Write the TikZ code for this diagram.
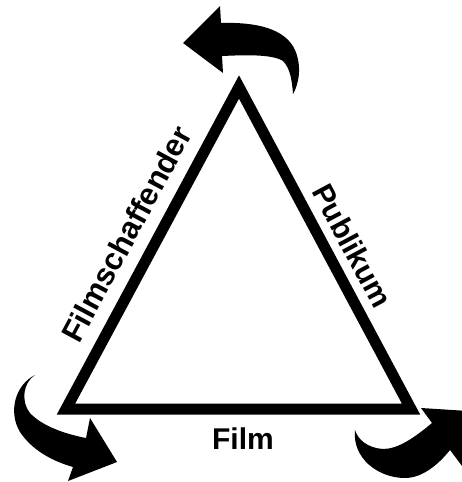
\documentclass[tikz,border=0pt]{standalone}
\usepackage{fontspec}
\setmainfont{Liberation Sans}
\usepackage{tikz}
\tikzset{
  side/.style={font=\bfseries\fontsize{30}{36}\selectfont, inner sep=0pt},
}

\begin{document}
\begin{tikzpicture}[x=1pt,y=-1pt]
  \useasboundingbox (0,0) rectangle (462,482);
  \coordinate (top) at (239,87);
  \coordinate (left) at (66,409);
  \coordinate (right) at (411,409);
  \draw[line width=11pt] (left) -- (top) -- (right) -- cycle;
  \path (left) -- node[side, sloped, above=18pt, pos=0.50, font=\bfseries\fontsize{31}{36}\selectfont] (filmschaffender) {Filmschaffender} (top);
  \path (top) -- node[side, sloped, above=14pt, pos=0.53] (publikum) {Publikum} (right);
  \path (left) -- node[side, below=19pt, pos=0.513] (film) {Film} (right);
  \fill (183,43) -- (220,6) -- (221,23) .. controls (255,22) and (285,28) .. (295,50)
    .. controls (302,66) and (299,84) .. (293,94) .. controls (292,80) and (290,68) .. (283,61)
    .. controls (272,54) and (245,55) .. (222,56) -- (223,73) -- cycle;
  \fill (35,375) .. controls (15,385) and (8,412) .. (20,432) .. controls (32,450) and (52,461) .. (73,467)
    -- (68,481) -- (117,462) -- (90,418) -- (86,438) .. controls (65,434) and (42,426) .. (30,413)
    .. controls (20,400) and (24,382) .. (35,375) -- cycle;
  \fill (355,430) .. controls (352,458) and (378,478) .. (405,478) .. controls (422,478) and (438,465) .. (450,450)
    -- (468,474) -- (484,412) -- (421,408) -- (432,423) .. controls (414,438) and (398,449) .. (383,449)
    .. controls (368,448) and (358,440) .. (355,430) -- cycle;
\end{tikzpicture}
\end{document}
